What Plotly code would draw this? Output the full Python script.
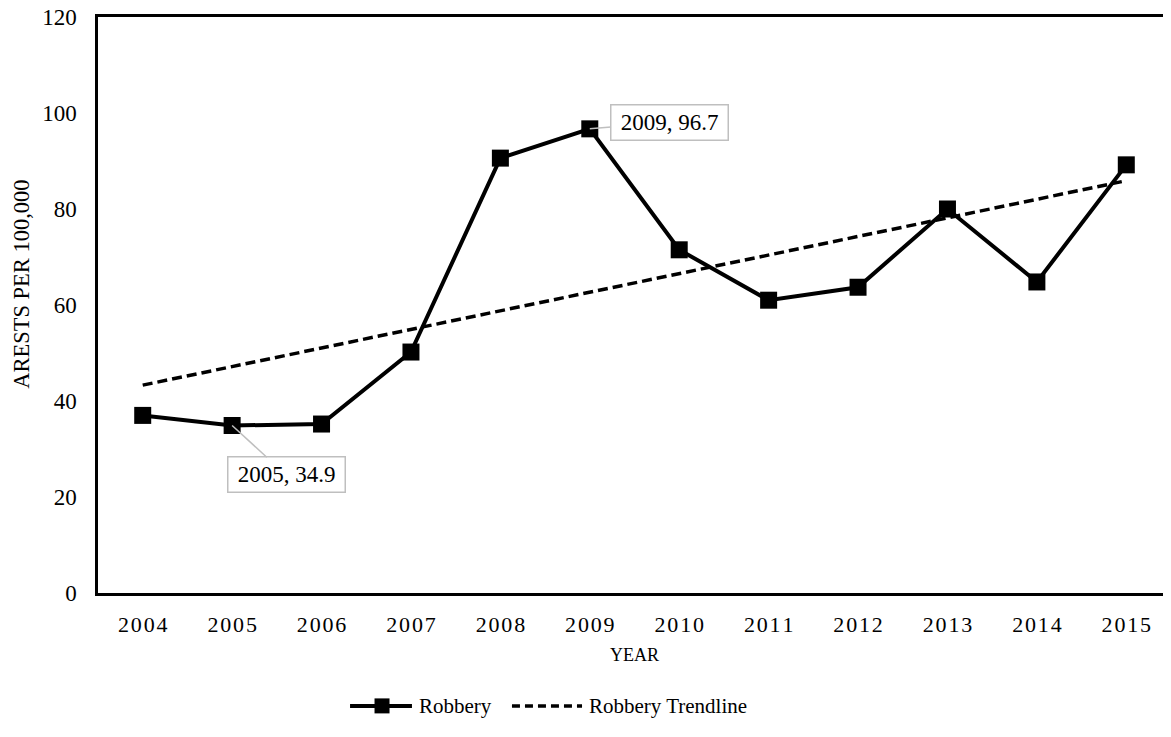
import plotly.graph_objects as go

years = ["2004", "2005", "2006", "2007", "2008", "2009", "2010", "2011", "2012", "2013", "2014", "2015"]
robbery = [37.0, 34.9, 35.2, 50.2, 90.6, 96.7, 71.5, 61.0, 63.7, 80.0, 64.8, 89.2]
trend_years = ["2004", "2015"]
trend_values = [43.3, 85.9]
y_ticks = [0, 20, 40, 60, 80, 100, 120]
labelled = [1, 5]  # indices of data points with callout labels

HS = "\u200a"
tick_text = [HS.join(list(y)) for y in years]

FONT = "Liberation Serif, Times New Roman, serif"

fig = go.Figure()
fig.add_trace(go.Scatter(
    x=years, y=robbery, name="Robbery", mode="lines+markers",
    line=dict(color="black", width=4),
    marker=dict(symbol="square", size=17, color="black"),
    showlegend=False,
))
fig.add_trace(go.Scatter(
    x=trend_years, y=trend_values, name="Robbery Trendline", mode="lines",
    line=dict(color="black", width=3.5, dash="10px,5px"),
    showlegend=False,
))

offsets = {1: (54, 49.5), 5: (80, -6.5)}
for i in labelled:
    ax, ay = offsets[i]
    fig.add_annotation(
        x=i, y=robbery[i], xref="x", yref="y",
        text=f"{years[i]}, {robbery[i]}",
        showarrow=True, arrowhead=0, arrowwidth=1.5, arrowcolor="#BFBFBF",
        ax=ax, ay=ay,
        bgcolor="white", bordercolor="#BFBFBF", borderwidth=1.5, borderpad=3,
        width=110, height=28,
        font=dict(family=FONT, size=23, color="black"),
    )

# y-axis title
fig.add_annotation(xref="paper", yref="paper", x=-0.0708, y=0.535, xanchor="center", yanchor="middle",
                   text="ARESTS PER 100,000", textangle=-90, showarrow=False,
                   font=dict(family=FONT, size=22.5, color="black"))

# manual legend (paper coordinates)
LY = -0.196
fig.add_shape(type="line", xref="paper", yref="paper", x0=0.2349, x1=0.2926, y0=LY, y1=LY,
              line=dict(color="black", width=4))
fig.add_shape(type="rect", xref="paper", yref="paper", xsizemode="pixel", ysizemode="pixel",
              xanchor=0.2647, yanchor=LY, x0=-7.5, x1=7.5, y0=-7.5, y1=7.5,
              fillcolor="black", line=dict(width=0))
fig.add_annotation(xref="paper", yref="paper", x=0.2973, y=LY, xanchor="left", yanchor="middle",
                   text="Robbery", showarrow=False, font=dict(family=FONT, size=21, color="black"))
fig.add_shape(type="line", xref="paper", yref="paper", x0=0.3858, x1=0.4511, y0=LY, y1=LY,
              line=dict(color="black", width=3.5, dash="8px,5px"))
fig.add_annotation(xref="paper", yref="paper", x=0.4557, y=LY, xanchor="left", yanchor="middle",
                   text="Robbery Trendline", showarrow=False, font=dict(family=FONT, size=21, color="black"))

fig.update_layout(
    width=1171, height=737,
    margin=dict(l=90, r=8, t=9, b=152, autoexpand=False),
    plot_bgcolor="white", paper_bgcolor="white",
    font=dict(family=FONT, size=22, color="black"),
    showlegend=False,
)
fig.update_xaxes(
    type="category", categoryorder="array", categoryarray=years,
    range=[-0.5, 11.5], tickvals=years, ticktext=tick_text,
    showline=True, linecolor="black", linewidth=2.5, mirror=True,
    showgrid=False, ticks="", tickfont=dict(size=22), ticklabelstandoff=10,
    title=dict(text="YEAR", font=dict(size=18), standoff=13),
    automargin=False,
)
fig.update_yaxes(
    range=[0, 120], tickvals=y_ticks,
    showline=True, linecolor="black", linewidth=2.5,
    showgrid=False, zeroline=False, ticks="", tickfont=dict(size=23), ticklabelstandoff=14,
    ticklabeloverflow="allow", automargin=False,
)

fig.write_html("out.html")
